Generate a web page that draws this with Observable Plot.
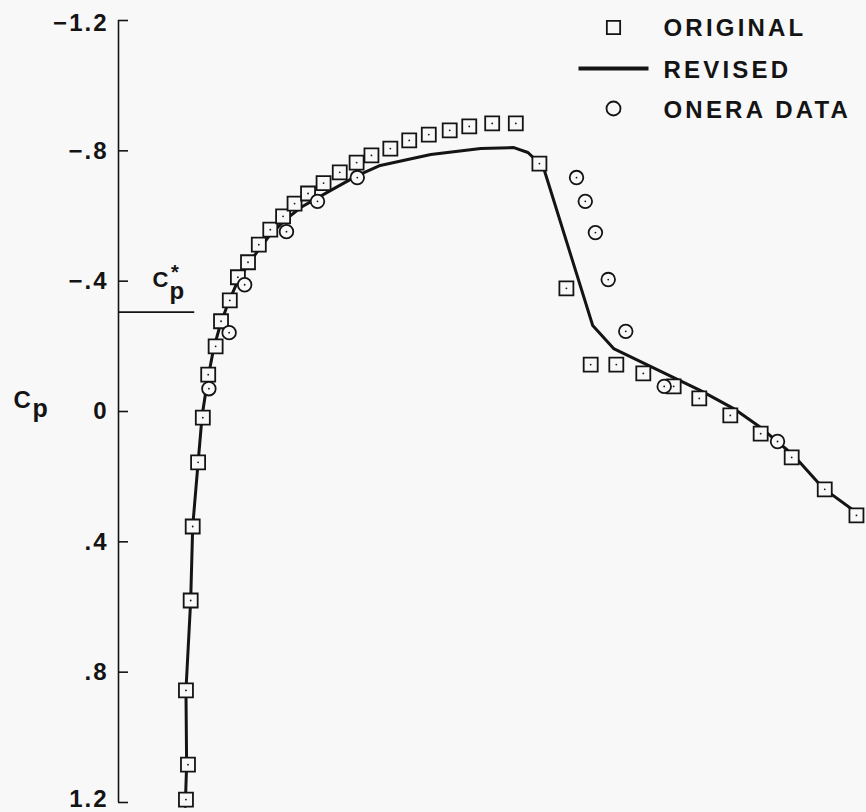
<!DOCTYPE html>
<html>
<head>
<meta charset="utf-8">
<script src="https://cdn.jsdelivr.net/npm/d3@7"></script>
<script src="https://cdn.jsdelivr.net/npm/@observablehq/plot@0.6"></script>
<style>
  html, body { margin: 0; padding: 0; background: #f8f8f8; }
  #chart svg { display: block; }
  #chart g[aria-label="y-axis tick label"] text { letter-spacing: 2px; }
  #chart g[aria-label="text"] text { letter-spacing: 3.2px; }
</style>
</head>
<body>
<div id="chart"></div>
<script>
// ---- Data (x/c along chord, Cp) ----
const originalX = [0.000,0.003,0.000,0.007,0.010,0.018,0.025,0.033,0.044,0.052,0.065,0.077,0.092,0.108,0.125,0.144,0.161,0.181,0.204,0.228,0.253,0.275,0.303,0.331,0.360,0.391,0.420,0.454,0.489,0.524,0.564,0.600,0.638,0.678,0.723,0.761,0.807,0.852,0.898,0.947,0.994];
const originalCp = [1.191,1.084,0.856,0.580,0.353,0.156,0.019,-0.113,-0.200,-0.277,-0.341,-0.412,-0.458,-0.512,-0.558,-0.599,-0.638,-0.669,-0.701,-0.734,-0.764,-0.786,-0.807,-0.832,-0.850,-0.863,-0.875,-0.884,-0.884,-0.761,-0.378,-0.144,-0.144,-0.117,-0.077,-0.040,0.012,0.068,0.141,0.239,0.319];

const revisedX = [-0.001,0.001,0.000,0.007,0.010,0.018,0.024,0.032,0.041,0.051,0.063,0.076,0.091,0.108,0.125,0.146,0.170,0.214,0.254,0.288,0.363,0.437,0.486,0.507,0.530,0.603,0.634,0.763,0.812,0.852,0.901,0.945,0.996];
const revisedCp = [1.212,1.084,0.856,0.580,0.353,0.157,0.012,-0.095,-0.193,-0.267,-0.335,-0.396,-0.448,-0.497,-0.543,-0.586,-0.626,-0.678,-0.724,-0.755,-0.789,-0.807,-0.810,-0.795,-0.749,-0.264,-0.193,-0.064,-0.009,0.049,0.135,0.236,0.313];

const oneraX = [0.034,0.064,0.087,0.149,0.195,0.254,0.579,0.592,0.607,0.626,0.652,0.709,0.877];
const oneraCp = [-0.070,-0.242,-0.389,-0.552,-0.645,-0.718,-0.718,-0.645,-0.549,-0.405,-0.246,-0.077,0.092];

const cpStar = -0.305;
const cpStarXEnd = 0.013;

const yTicks = [-1.2, -0.8, -0.4, 0, 0.4, 0.8, 1.2];
const yTickLabels = ["\u22121.2", "\u2212.8", "\u2212.4", "0", ".4", ".8", "1.2"];
const legendLabels = ["ORIGINAL", "REVISED", "ONERA DATA"];

const xDomain = [-0.1, 1.0];
const yDomain = [-1.2, 1.2];

// ---- Tables ----
const original = originalX.map((x, i) => ({x, cp: originalCp[i]}));
const revised = revisedX.map((x, i) => ({x, cp: revisedCp[i]}));
const onera = oneraX.map((x, i) => ({x, cp: oneraCp[i]}));

const ink = "#141414";
const bg = "#f8f8f8";
const font = "'Liberation Sans', Arial, Helvetica, sans-serif";

const W = 866, H = 812, mL = 118, mR = 6, mT = 20, mB = 10;
const frameW = W - mL - mR;
const tickLen = 10;

const lineSymbol = {draw(ctx) { ctx.moveTo(-35, 0); ctx.lineTo(35, 0); }};
const legendText = (label, dy) => Plot.text([label], {
  frameAnchor: "top-right", dx: -197, dy, text: d => d,
  textAnchor: "start", lineAnchor: "bottom",
  fontSize: 24, fontWeight: "bold", fill: ink
});
const tickLabels = (ticks, dy) => Plot.axisY(ticks, {
  anchor: "left",
  tickSize: 0,
  tickPadding: 10,
  fill: ink,
  tickFormat: d => yTickLabels[yTicks.indexOf(d)],
  fontSize: 24,
  fontWeight: "bold",
  label: null,
  dy
});

const chart = Plot.plot({
  width: W,
  height: H,
  marginTop: mT,
  marginBottom: mB,
  marginLeft: mL,
  marginRight: mR,
  style: {background: bg, fontFamily: font, color: ink},
  x: {domain: xDomain, axis: null},
  y: {domain: yDomain, reverse: true, axis: null},
  marks: [
    // y axis spine and inward ticks
    Plot.ruleX([xDomain[0]], {y1: yDomain[0], y2: yDomain[1], stroke: ink, strokeWidth: 1.6}),
    Plot.ruleY(yTicks, {y: d => d, insetRight: frameW - tickLen, stroke: ink, strokeWidth: 1.6}),
    tickLabels(yTicks.slice(1, -1), 0),
    tickLabels([yTicks[0]], 3),
    tickLabels([yTicks[yTicks.length - 1]], -3),
    // Cp axis label
    Plot.text([0], {frameAnchor: "left", y: d => d, text: () => "C", dx: -105, dy: -4, textAnchor: "start", lineAnchor: "bottom", fontSize: 24, fontWeight: "bold", fill: ink}),
    Plot.text([0], {frameAnchor: "left", y: d => d, text: () => "p", dx: -86, dy: 5, textAnchor: "start", lineAnchor: "bottom", fontSize: 25, fontWeight: "bold", fill: ink}),
    // Cp* reference line and label
    Plot.ruleY([cpStar], {x1: xDomain[0], x2: cpStarXEnd, stroke: ink, strokeWidth: 1.6}),
    Plot.text([cpStar], {x: xDomain[0], y: d => d, text: () => "C", dx: 34, dy: -25, textAnchor: "start", lineAnchor: "bottom", fontSize: 22, fontWeight: "bold", fill: ink}),
    Plot.text([cpStar], {x: xDomain[0], y: d => d, text: () => "*", dx: 58, dy: -33, textAnchor: "middle", lineAnchor: "bottom", fontSize: 20, fontWeight: "bold", fill: ink}),
    Plot.text([cpStar], {x: xDomain[0], y: d => d, text: () => "p", dx: 51, dy: -13, textAnchor: "start", lineAnchor: "bottom", fontSize: 24, fontWeight: "bold", fill: ink}),
    // Revised (line)
    Plot.line(revised, {x: "x", y: "cp", stroke: ink, strokeWidth: 3, strokeLinejoin: "round"}),
    // Original (squares)
    Plot.dot(original, {x: "x", y: "cp", symbol: "square", r: 7.9, fill: bg, stroke: ink, strokeWidth: 1.8}),
    Plot.dot(original, {x: "x", y: "cp", r: 0.9, fill: ink, stroke: null}),
    // ONERA data (circles)
    Plot.dot(onera, {x: "x", y: "cp", symbol: "circle", r: 6.8, fill: bg, stroke: ink, strokeWidth: 1.8}),
    Plot.dot(onera, {x: "x", y: "cp", r: 0.9, fill: ink, stroke: null}),
    // Legend
    Plot.dot([legendLabels[0]], {frameAnchor: "top-right", dx: -247, dy: 7, symbol: "square", r: 7.5, fill: bg, stroke: ink, strokeWidth: 1.8}),
    Plot.dot([legendLabels[1]], {frameAnchor: "top-right", dx: -247, dy: 48, symbol: lineSymbol, r: 5, fill: "none", stroke: ink, strokeWidth: 4}),
    Plot.dot([legendLabels[2]], {frameAnchor: "top-right", dx: -247, dy: 88, symbol: "circle", r: 7, fill: bg, stroke: ink, strokeWidth: 1.8}),
    legendText(legendLabels[0], 15),
    legendText(legendLabels[1], 57),
    legendText(legendLabels[2], 97)
  ]
});

document.getElementById("chart").appendChild(chart);
</script>
</body>
</html>
